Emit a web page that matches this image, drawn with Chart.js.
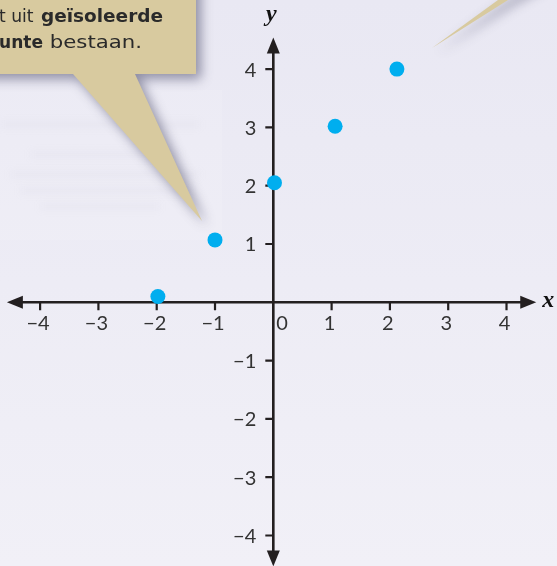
<!DOCTYPE html>
<html>
<head>
<meta charset="utf-8">
<script src="https://cdn.jsdelivr.net/npm/chart.js@4/dist/chart.umd.min.js"></script>
<style>
  html, body { margin: 0; padding: 0; background: #ecebf4; }
  canvas { display: block; }
</style>
</head>
<body>
<canvas id="plot" width="557" height="566"></canvas>
<script>
// the isolated points
const xValues = [-1.98, -1.0, 0.02, 1.06, 2.12];
const yValues = [0.1, 1.07, 2.05, 3.02, 4.0];

const xTicks = [-4, -3, -2, -1, 0, 1, 2, 3, 4];
const yTicks = [-4, -3, -2, -1, 1, 2, 3, 4];

const calloutLine1 = ['t uit ', 'geïsoleerde'];
const calloutLine2 = ['unte', ' bestaan.'];

const AXIS = '#231f20';
const TAN = '#d8ca9f';
const tickFont = '20px Lato, "Open Sans", sans-serif';

function minusSign(v) {
  return v < 0 ? '\u2212' + Math.abs(v) : String(v);
}

function arrowHead(ctx, tx, ty, dx, dy, len, half) {
  // tip at (tx,ty), pointing in direction (dx,dy)
  const bx = tx - dx * len, by = ty - dy * len;
  ctx.beginPath();
  ctx.moveTo(tx, ty);
  ctx.lineTo(bx - dy * half, by + dx * half);
  ctx.lineTo(bx + dy * half, by - dx * half);
  ctx.closePath();
  ctx.fill();
}

// draw a text piece squeezed/stretched to a given width
function fitText(ctx, txt, x, y, width) {
  const w = ctx.measureText(txt).width;
  ctx.save();
  ctx.translate(x, y);
  ctx.scale(width / w, 1);
  ctx.fillText(txt, 0, 0);
  ctx.restore();
}

const backdrop = {
  id: 'backdrop',
  beforeDraw(chart) {
    const ctx = chart.ctx;
    const w = chart.width, h = chart.height;
    ctx.save();
    const g = ctx.createLinearGradient(0, 0, 0, h);
    g.addColorStop(0, '#e9e8f3');
    g.addColorStop(1, '#f1f0f7');
    ctx.fillStyle = g;
    ctx.fillRect(0, 0, w, h);

    // faint ghost text block at the left
    ctx.fillStyle = 'rgba(255,255,255,0.12)';
    ctx.fillRect(0, 90, 222, 150);
    ctx.filter = 'blur(3px)';
    ctx.fillStyle = 'rgba(170,170,200,0.05)';
    [[30, 150, 150], [10, 170, 190], [20, 186, 170], [40, 202, 120], [0, 120, 200]].forEach(r => {
      ctx.fillRect(r[0], r[1], r[2], 9);
    });
    ctx.filter = 'none';

    // callouts with soft shadow
    ctx.shadowColor = 'rgba(70,70,100,0.55)';
    ctx.shadowBlur = 12;
    ctx.shadowOffsetX = 5;
    ctx.shadowOffsetY = 5;
    ctx.fillStyle = TAN;

    ctx.beginPath();
    ctx.moveTo(-20, -20);
    ctx.lineTo(196, -20);
    ctx.lineTo(196, 74);
    ctx.lineTo(135, 74);
    ctx.lineTo(202, 221);
    ctx.lineTo(73, 74);
    ctx.lineTo(-20, 74);
    ctx.closePath();
    ctx.fill();

    ctx.beginPath();
    ctx.moveTo(432, 48);
    ctx.lineTo(498, 0);
    ctx.lineTo(560, -40);
    ctx.lineTo(580, -40);
    ctx.lineTo(508, 0);
    ctx.closePath();
    ctx.fill();
    ctx.restore();

    // callout text
    ctx.save();
    ctx.fillStyle = '#2a2a2a';
    ctx.textBaseline = 'alphabetic';
    const reg = '18px "DejaVu Sans", sans-serif';
    const bold = 'bold 18px "DejaVu Sans", sans-serif';
    ctx.font = reg;
    fitText(ctx, calloutLine1[0], -1, 22, 40);
    ctx.font = bold;
    fitText(ctx, calloutLine1[1], 41, 22, 122);
    fitText(ctx, calloutLine2[0], -1, 48, 44);
    ctx.font = reg;
    fitText(ctx, calloutLine2[1], 43, 48, 99);
    ctx.restore();
  }
};

const axes = {
  id: 'axes',
  beforeDatasetsDraw(chart) {
    const ctx = chart.ctx;
    const sx = chart.scales.x, sy = chart.scales.y;
    const ox = sx.getPixelForValue(0), oy = sy.getPixelForValue(0);
    const left = sx.getPixelForValue(-4.57), right = sx.getPixelForValue(4.51);
    const top = sy.getPixelForValue(4.54), bottom = sy.getPixelForValue(-4.53);
    ctx.save();
    ctx.strokeStyle = AXIS;
    ctx.fillStyle = AXIS;
    ctx.lineWidth = 2.6;

    ctx.beginPath();
    ctx.moveTo(left + 8, oy); ctx.lineTo(right - 8, oy);
    ctx.moveTo(ox, top + 8); ctx.lineTo(ox, bottom - 8);
    ctx.stroke();
    arrowHead(ctx, left, oy, -1, 0, 16, 6.5);
    arrowHead(ctx, right, oy, 1, 0, 16, 6.5);
    arrowHead(ctx, ox, top, 0, -1, 16, 6.5);
    arrowHead(ctx, ox, bottom, 0, 1, 16, 6.5);

    ctx.lineWidth = 2.2;
    ctx.beginPath();
    xTicks.forEach(v => {
      if (v === 0) return;
      const px = sx.getPixelForValue(v);
      ctx.moveTo(px, oy); ctx.lineTo(px, oy + 8);
    });
    yTicks.forEach(v => {
      const py = sy.getPixelForValue(v);
      ctx.moveTo(ox, py); ctx.lineTo(ox - 8, py);
    });
    ctx.stroke();

    ctx.fillStyle = '#333333';
    ctx.font = tickFont;
    ctx.textBaseline = 'alphabetic';
    xTicks.forEach(v => {
      const px = sx.getPixelForValue(v);
      if (v === 0) {
        ctx.textAlign = 'left';
        ctx.fillText('0', ox + 3, oy + 28);
      } else {
        ctx.textAlign = 'center';
        ctx.fillText(minusSign(v), px - 2, oy + 28);
      }
    });
    ctx.textAlign = 'right';
    ctx.textBaseline = 'middle';
    yTicks.forEach(v => {
      ctx.fillText(minusSign(v), ox - 17, sy.getPixelForValue(v) + 1);
    });

    ctx.fillStyle = '#111111';
    ctx.font = 'italic bold 24px "Liberation Serif", "DejaVu Serif", serif';
    ctx.textBaseline = 'alphabetic';
    ctx.textAlign = 'left';
    ctx.fillText('x', right + 6, oy + 5);
    ctx.textAlign = 'center';
    ctx.fillText('y', ox - 2, 21);
    ctx.restore();
  }
};

new Chart(document.getElementById('plot'), {
  type: 'scatter',
  data: {
    datasets: [{
      data: xValues.map((x, i) => ({ x: x, y: yValues[i] })),
      pointRadius: 7.5,
      pointHoverRadius: 7.5,
      pointBackgroundColor: '#00aeef',
      pointBorderWidth: 0
    }]
  },
  options: {
    responsive: false,
    animation: false,
    layout: { padding: 0, autoPadding: false },
    plugins: { legend: { display: false }, tooltip: { enabled: false } },
    scales: {
      x: { type: 'linear', min: -4.688, max: 4.866, display: false },
      y: { type: 'linear', min: -4.523, max: 5.185, display: false }
    }
  },
  plugins: [backdrop, axes]
});
</script>
</body>
</html>
